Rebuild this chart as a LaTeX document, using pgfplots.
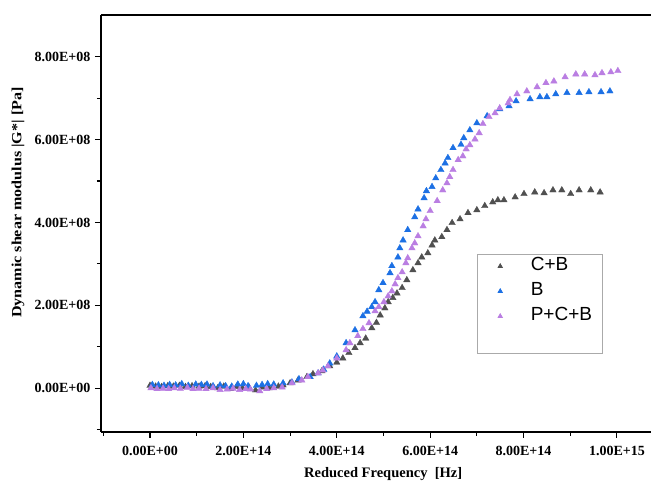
\documentclass[border=0pt]{standalone}
\usepackage{fontspec}
\setmainfont{Liberation Serif}
\newfontfamily\arialfont{Liberation Sans}
\usepackage{pgfplots}
\pgfplotsset{compat=1.18}
\usetikzlibrary{calc}
\definecolor{cgray}{RGB}{80,80,80}
\definecolor{cblue}{RGB}{28,112,228}
\definecolor{cpurp}{RGB}{186,126,226}
\pgfplotsset{
  mystyle/.style={only marks, mark=triangle*, mark size=3.7pt,
    mark options={draw=#1, fill=#1}, color=#1,
    legend image code/.code={\path (-0.2cm,0) (1.29cm,0);
      \draw[mark repeat=2,mark phase=2,##1,mark size=2.5pt] plot coordinates {(0cm,0cm) (0.3cm,0cm) (0.6cm,0cm)};}}
}
\begin{document}
\begin{tikzpicture}
\begin{axis}[
  scale only axis,
  width=550pt, height=417pt,
  xmin=-1.05, xmax=10.73,
  ymin=-1.06, ymax=9.01,
  axis x line=box, axis y line=left,
  axis line style={-, line width=1.3pt},
  xtick pos=bottom, ytick pos=left,
  tick align=outside,
  major tick length=6pt, minor tick length=4pt,
  every tick/.style={black, line width=1.1pt},
  xtick={0,2,4,6,8,10},
  xticklabels={0.00E+00,2.00E+14,4.00E+14,6.00E+14,8.00E+14,1.00E+15},
  minor xtick={-1,1,3,5,7,9},
  ytick={0,2,4,6,8},
  yticklabels={0.00E+00,2.00E+08,4.00E+08,6.00E+08,8.00E+08},
  minor ytick={-1,1,3,5,7},
  xticklabel style={font=\bfseries\fontsize{14}{16}\selectfont, yshift=-5pt},
  yticklabel style={font=\bfseries\fontsize{14}{16}\selectfont, xshift=-1pt},
  xlabel={Reduced Frequency\ \ [Hz]},
  ylabel={\scalebox{1.15}[1]{Dynamic shear modulus |G*| [Pa]}},
  xlabel style={font=\bfseries\fontsize{14.5}{16}\selectfont, at={(axis description cs:0.513,-0.1007)}, anchor=center},
  ylabel style={font=\bfseries\fontsize{14}{16}\selectfont, at={(axis description cs:-0.151,0.55)}, anchor=center, rotate=0},
  legend style={at={(axis description cs:0.684,0.427)}, anchor=north west,
    draw={rgb,255:red,170;green,170;blue,170}, line width=0.8pt,
    font=\arialfont\fontsize{19}{21}\selectfont,
    inner xsep=8pt, inner ysep=1.5pt, row sep=4pt,
    nodes={text height=13pt, text depth=4pt, inner ysep=2pt, inner xsep=2pt}},
  legend cell align=left,
  clip=false,
]
\addplot[mystyle=cgray] coordinates {
(0.00,0.06)(0.12,0.04)(0.25,0.03)(0.38,0.05)(0.50,0.04)(0.63,0.06)(0.76,0.03)(0.90,0.05)
(1.05,0.04)(1.18,0.05)(1.30,0.03)(1.45,0.00)(1.58,0.04)(1.72,-0.02)(1.85,0.03)(1.98,0.00)
(2.12,0.02)(2.26,-0.05)(2.40,0.02)(2.55,0.00)(2.63,0.01)(2.75,0.04)(2.85,0.07)(3.00,0.12)
(3.17,0.19)(3.36,0.27)(3.49,0.34)(3.68,0.41)(3.85,0.53)(4.00,0.62)(4.13,0.72)(4.26,0.85)
(4.39,0.97)(4.50,1.09)(4.62,1.20)(4.75,1.45)(4.85,1.58)(4.93,1.76)(5.03,1.93)(5.10,2.08)
(5.20,2.18)(5.29,2.29)(5.40,2.42)(5.50,2.61)(5.63,2.85)(5.74,3.02)(5.82,3.16)(5.95,3.26)
(6.04,3.45)(6.10,3.57)(6.25,3.65)(6.36,3.82)(6.47,3.99)(6.64,4.08)(6.81,4.23)(7.00,4.30)
(7.17,4.40)(7.34,4.49)(7.45,4.54)(7.58,4.54)(7.82,4.61)(8.01,4.69)(8.24,4.73)(8.44,4.71)
(8.63,4.78)(8.82,4.78)(9.01,4.69)(9.19,4.78)(9.44,4.78)(9.64,4.73)
};
\addlegendentry{C+B}
\addplot[mystyle=cblue] coordinates {
(0.05,0.08)(0.18,0.07)(0.30,0.06)(0.42,0.08)(0.55,0.07)(0.68,0.10)(0.82,0.06)(0.98,0.09)
(1.10,0.08)(1.22,0.09)(1.35,0.05)(1.50,0.07)(1.62,0.05)(1.75,0.04)(1.88,0.09)(2.00,0.10)
(2.10,0.05)(2.28,0.06)(2.40,0.08)(2.52,0.10)(2.65,0.09)(2.85,0.12)(3.04,0.14)(3.19,0.22)
(3.43,0.27)(3.60,0.36)(3.72,0.45)(3.85,0.60)(4.00,0.77)(4.20,1.09)(4.39,1.40)(4.56,1.74)
(4.65,1.85)(4.75,1.96)(4.82,2.08)(4.90,2.37)(4.99,2.54)(5.14,2.78)(5.18,2.95)(5.31,3.16)
(5.35,3.38)(5.42,3.57)(5.52,3.82)(5.67,4.13)(5.74,4.32)(5.87,4.59)(5.92,4.76)(6.04,4.86)
(6.12,5.07)(6.23,5.27)(6.32,5.43)(6.38,5.56)(6.49,5.80)(6.66,5.88)(6.72,6.04)(6.85,6.23)
(7.00,6.40)(7.22,6.57)(7.49,6.74)(7.69,6.81)(7.84,6.93)(8.14,6.98)(8.35,7.03)(8.50,7.03)
(8.69,7.10)(8.93,7.13)(9.19,7.13)(9.40,7.15)(9.66,7.15)(9.85,7.17)
};
\addlegendentry{B}
\addplot[mystyle=cpurp] coordinates {
(0.02,0.00)(0.15,-0.02)(0.28,-0.01)(0.40,-0.02)(0.52,0.00)(0.65,-0.01)(0.80,0.01)(0.92,-0.02)
(1.05,-0.01)(1.20,-0.02)(1.35,0.00)(1.50,-0.04)(1.65,-0.03)(1.78,-0.01)(1.92,-0.04)(2.05,-0.02)
(2.15,-0.03)(2.35,-0.07)(2.50,-0.02)(2.65,0.00)(2.83,0.02)(3.04,0.12)(3.25,0.19)(3.38,0.27)
(3.60,0.36)(3.70,0.43)(3.81,0.53)(4.00,0.72)(4.20,0.92)(4.28,1.09)(4.45,1.26)(4.56,1.43)
(4.69,1.57)(4.82,1.86)(4.90,1.96)(5.01,2.08)(5.10,2.22)(5.18,2.34)(5.25,2.51)(5.31,2.66)
(5.40,2.80)(5.48,3.02)(5.52,3.14)(5.61,3.38)(5.67,3.50)(5.74,3.67)(5.85,3.91)(5.91,4.08)
(6.00,4.28)(6.15,4.52)(6.27,4.78)(6.36,4.95)(6.42,5.10)(6.49,5.27)(6.60,5.51)(6.70,5.60)
(6.77,5.77)(6.85,5.87)(6.96,6.01)(7.05,6.16)(7.13,6.38)(7.26,6.55)(7.39,6.64)(7.49,6.76)
(7.67,6.88)(7.71,6.96)(7.86,7.10)(8.07,7.17)(8.29,7.27)(8.48,7.37)(8.65,7.41)(8.89,7.51)
(9.12,7.58)(9.31,7.58)(9.53,7.56)(9.68,7.61)(9.87,7.63)(10.02,7.66)
};
\addlegendentry{P+C+B}
\addlegendimage{empty legend}
\addlegendentry{}
\end{axis}
\pgfresetboundingbox
\path ($(current axis.south west)+(-101pt,-49pt)$) rectangle ($(current axis.north east)+(0pt,15pt)$);
\end{tikzpicture}
\end{document}
